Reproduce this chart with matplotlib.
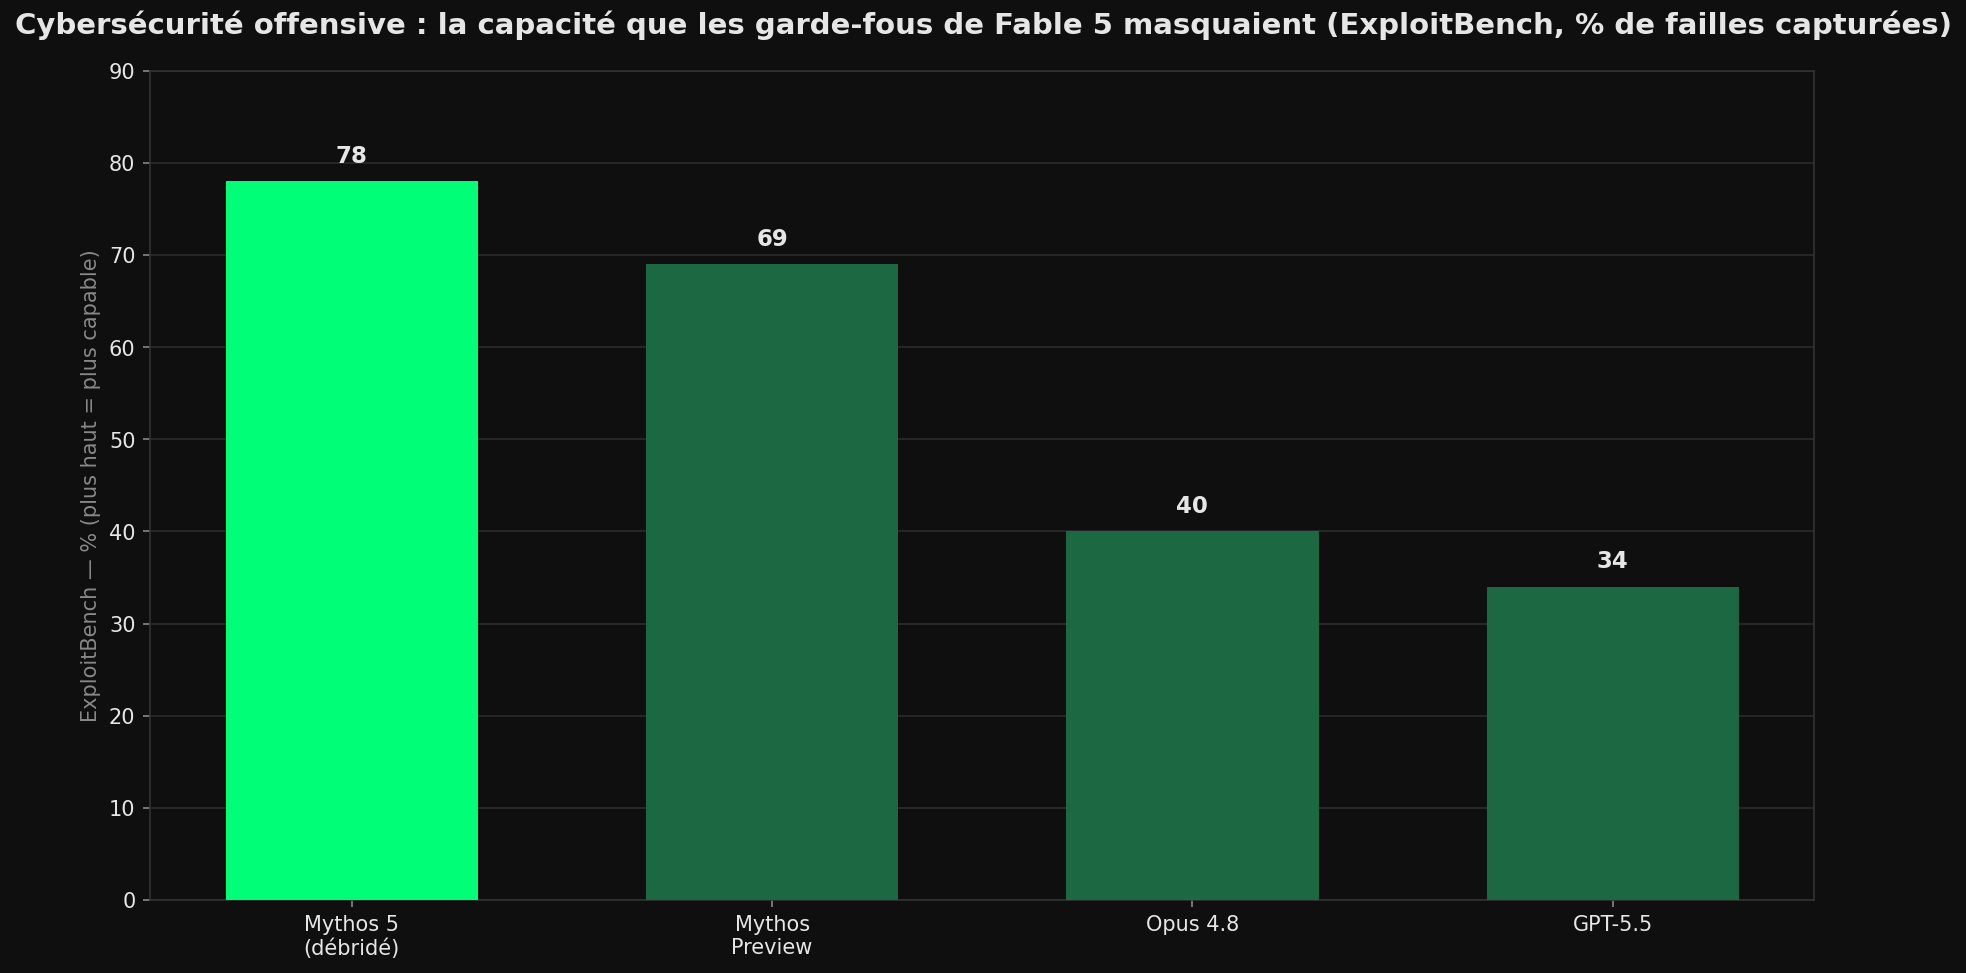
import matplotlib
matplotlib.use("Agg")
import matplotlib.pyplot as plt
import numpy as np

models = ["Mythos 5\n(débridé)", "Mythos\nPreview", "Opus 4.8", "GPT-5.5"]
scores = [78, 69, 40, 34]
highlight = [True, False, False, False]

BG = "#0f0f0f"
TEXT = "#e6e6e6"
BRIGHT = "#00ff77"
DARK = "#1b6843"

fig, ax = plt.subplots(figsize=(13.11, 6.49), dpi=150)
fig.patch.set_facecolor(BG)
ax.set_facecolor(BG)
fig.subplots_adjust(left=0.0763, right=0.9227, top=0.927, bottom=0.075)

x = np.arange(len(models))
colors = [BRIGHT if h else DARK for h in highlight]
bars = ax.bar(x, scores, width=0.6, color=colors, zorder=3)

for b, v in zip(bars, scores):
    ax.text(b.get_x() + b.get_width() / 2, v + 1.5, f"{v}", ha="center", va="bottom",
            color=TEXT, fontsize=11, fontweight="bold", zorder=4)

ax.set_ylim(0, 90)
ax.set_yticks(np.arange(0, 91, 10))
ax.set_xticks(x)
ax.set_xticklabels(models)
ax.tick_params(colors=TEXT, labelsize=10)
ax.tick_params(axis="both", color="#888888")
ax.grid(axis="y", color="#262626", linewidth=1, zorder=0)
for s in ax.spines.values():
    s.set_color("#333333")

ax.set_ylabel("ExploitBench — % (plus haut = plus capable)", color="#888888", fontsize=10)
fig.text(15 / 1967, 1 - 25 / 973,
         "Cybersécurité offensive : la capacité que les garde-fous de Fable 5 masquaient "
         "(ExploitBench, % de failles capturées)",
         color=TEXT, fontsize=14, fontweight="bold", ha="left", va="center")

fig.savefig("out.png", dpi=150, facecolor=BG)
